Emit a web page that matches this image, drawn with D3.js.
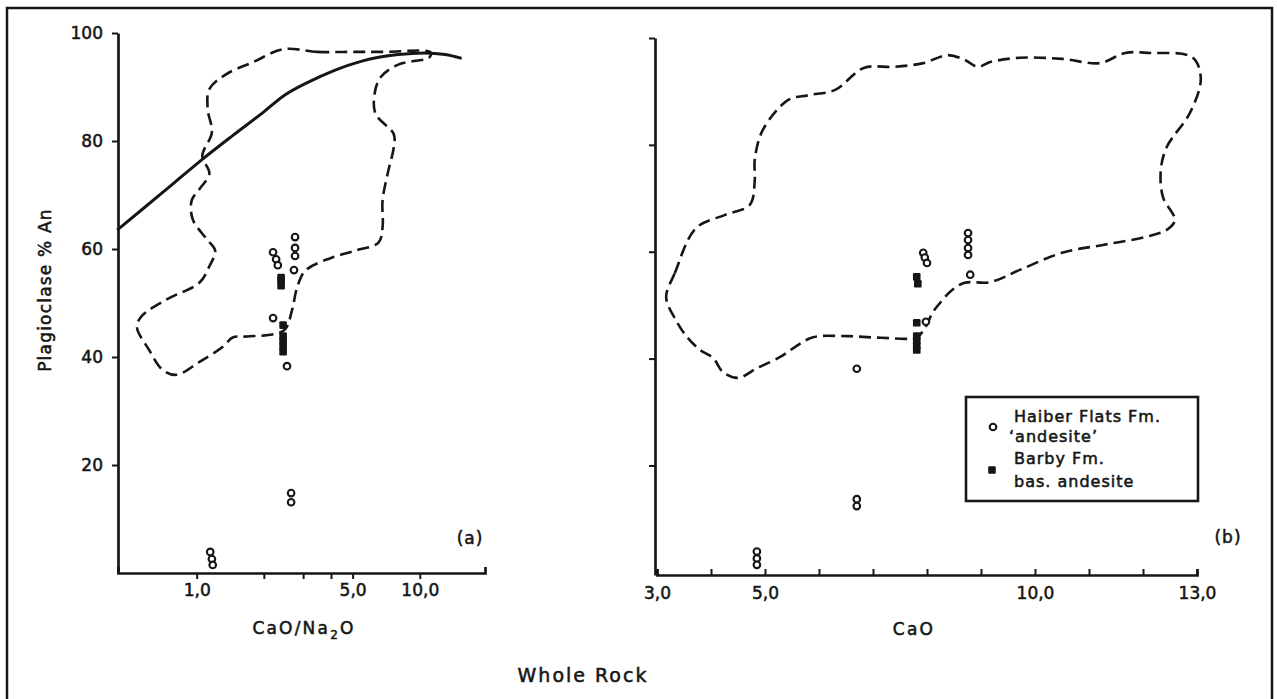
<!DOCTYPE html>
<html>
<head>
<meta charset="utf-8">
<script src="https://cdn.jsdelivr.net/npm/d3@7"></script>
<style>
  body { margin: 0; background: #fff; }
  svg text { font-family: "DejaVu Sans", sans-serif; fill: #161616; stroke: #161616; stroke-width: 0.55px; }
</style>
</head>
<body>
<div id="chart"></div>
<script>
// ---- panel (a): CaO/Na2O (log) vs % An ----
const curveA = [[0.44, 63.5], [0.6, 68.1], [0.8, 72.4], [1.06, 76.6], [1.45, 81.0], [2.0, 85.4],
  [2.44, 88.3], [3.2, 91.0], [4.1, 93.0], [5.5, 94.8], [8.0, 96.0], [10.5, 96.3], [13, 96.0], [15.4, 95.3]];

const outlineA = [[2.44, 97.0], [3.47, 96.5], [4.89, 96.5], [6.88, 96.5], [11.2, 96.4], [11.0, 95.4],
  [9.4, 94.8], [7.96, 94.1], [6.67, 91.8], [6.27, 88.7], [6.34, 85.0], [7.64, 81.3], [7.64, 78.8],
  [7.18, 74.0], [6.81, 69.0], [6.81, 64.0], [6.53, 61.2], [5.15, 59.7], [3.97, 58.3], [3.07, 56.0],
  [2.82, 52.9], [2.68, 48.8], [2.49, 45.1], [2.20, 44.2], [1.68, 43.8], [1.45, 43.6], [1.31, 41.9],
  [1.03, 39.1], [0.81, 36.7], [0.70, 37.7], [0.61, 41.4], [0.54, 45.5], [0.565, 47.5], [0.73, 50.6],
  [1.03, 53.8], [1.14, 56.8], [1.21, 59.7], [1.11, 61.8], [0.96, 65.5], [0.95, 69.0], [1.03, 71.1],
  [1.14, 74.0], [1.06, 77.2], [1.17, 81.6], [1.12, 85.9], [1.14, 89.6], [1.36, 92.4], [1.79, 94.6]];

const haiberA = [[2.20, 59.4], [2.27, 58.1], [2.31, 57.0], [2.76, 62.2], [2.76, 60.2], [2.76, 58.7],
  [2.73, 56.1], [2.20, 47.2], [2.54, 38.3], [2.65, 14.8], [2.65, 13.1], [1.15, 3.9], [1.17, 2.6], [1.18, 1.5]];
const barbyA = [[2.39, 54.7], [2.39, 54.1], [2.39, 53.2], [2.44, 45.9], [2.44, 43.9], [2.44, 43.0],
  [2.44, 42.0], [2.44, 41.0]];

// ---- panel (b): CaO vs % An ----
const outlineB = [[3.17, 51.5], [3.33, 56.0], [3.72, 64.4], [4.26, 66.9], [4.72, 68.8], [4.81, 73.4],
  [4.81, 77.2], [4.96, 82.8], [5.43, 88.4], [5.81, 89.3], [6.30, 90.3], [6.83, 94.4], [7.39, 94.6],
  [7.93, 95.3], [8.39, 96.8], [8.70, 95.9], [8.94, 94.6], [9.17, 95.5], [9.72, 96.3], [10.5, 96.1],
  [11.2, 95.3], [11.67, 97.2], [12.13, 97.2], [12.91, 96.4], [13.07, 92.5], [12.87, 86.0], [12.44, 79.6],
  [12.33, 75.3], [12.37, 70.2], [12.59, 65.9], [12.44, 64.1], [12.06, 62.8], [11.28, 61.3], [10.5, 59.8],
  [9.72, 56.6], [9.17, 54.3], [8.70, 54.2], [8.46, 52.8], [8.24, 50.4], [8.11, 48.7], [7.96, 45.7],
  [7.81, 44.0], [7.15, 43.9], [6.52, 44.2], [5.89, 44.0], [5.56, 42.2], [5.28, 40.3], [4.85, 38.2],
  [4.5, 36.4], [4.22, 37.5], [4.04, 40.1], [3.8, 41.6], [3.56, 44.0], [3.35, 47.2]];

const haiberB = [[7.93, 59.8], [7.96, 58.9], [8.0, 57.9], [8.76, 63.5], [8.76, 62.2], [8.76, 60.7],
  [8.76, 59.4], [8.80, 55.7], [7.98, 46.9], [6.70, 38.1], [6.70, 13.7], [6.70, 12.4], [4.85, 3.9],
  [4.85, 2.6], [4.85, 1.4]];
const barbyB = [[7.81, 55.3], [7.83, 54.0], [7.81, 46.7], [7.81, 44.2], [7.81, 43.3], [7.81, 42.4], [7.81, 41.6]];

// ---- axes ----
const yTicks = [20, 40, 60, 80, 100];
const xTicksA = [1, 2, 3, 4, 5, 10];
const xLabelValsA = [1, 5, 10];
const xLabelsA = ["1,0", "5,0", "10,0"];
const xTicksB = [3, 4, 5, 6, 7, 8, 9, 10, 11, 12, 13];
const xLabelValsB = [3, 5, 10, 13];
const xLabelsB = ["3,0", "5,0", "10,0", "13,0"];

const legendLabels = [["Haiber Flats Fm.", "\u2018andesite\u2019"], ["Barby Fm.", "bas. andesite"]];

const W = 1277, H = 699;
const ink = "#161616";

const svg = d3.select("#chart").append("svg")
  .attr("width", W).attr("height", H);

// outer frame (bottom edge runs off the page)
svg.append("rect")
  .attr("x", 7).attr("y", 8).attr("width", 1265).attr("height", 740)
  .attr("fill", "none").attr("stroke", ink).attr("stroke-width", 2.5);

// scales
const xA = d3.scaleLog().domain([0.444, 19.6]).range([118, 485]);
const yA = d3.scaleLinear().domain([0, 100]).range([573, 33]);
const xB = d3.scaleLinear().domain([3, 13]).range([657, 1197]);
const yB = d3.scaleLinear().domain([-0.5, 100]).range([575, 38]);

function styleAxis(g) {
  g.attr("font-family", null).attr("font-size", 17);
  g.selectAll(".domain").attr("stroke", ink).attr("stroke-width", 2.7);
  g.selectAll(".tick line").attr("stroke", ink).attr("stroke-width", 2);
  g.selectAll(".tick text").attr("fill", ink);
}

// ---- panel (a) axes ----
svg.append("g")
  .attr("transform", "translate(118,0)")
  .call(d3.axisLeft(yA).tickValues(yTicks).tickSize(6).tickSizeOuter(0).tickPadding(9))
  .call(styleAxis);

svg.append("g")
  .attr("transform", "translate(0,573)")
  .call(d3.axisBottom(xA).tickValues(xTicksA).tickSize(6).tickSizeOuter(-6).tickPadding(5)
    .tickFormat(d => { const i = xLabelValsA.indexOf(d); return i < 0 ? "" : xLabelsA[i]; }))
  .call(styleAxis);

// ---- panel (b) axes ----
svg.append("g")
  .attr("transform", `translate(${xB(3) - 2},0)`)
  .call(d3.axisLeft(yB).tickValues(yTicks).tickSize(6).tickSizeOuter(0).tickFormat(""))
  .call(styleAxis);

svg.append("g")
  .attr("transform", "translate(0,575)")
  .call(d3.axisBottom(xB).tickValues(xTicksB).tickSize(-6).tickSizeOuter(-6).tickPadding(12)
    .tickFormat(d => { const i = xLabelValsB.indexOf(d); return i < 0 ? "" : xLabelsB[i]; }))
  .call(styleAxis);

// ---- outlines and curve ----
const dash = "12,6";
function outline(data, x, y) {
  return d3.line().x(d => x(d[0])).y(d => y(d[1])).curve(d3.curveCatmullRomClosed.alpha(0.5))(data);
}
svg.append("path").attr("d", outline(outlineA, xA, yA))
  .attr("fill", "none").attr("stroke", ink).attr("stroke-width", 2.6).attr("stroke-dasharray", dash);
svg.append("path").attr("d", outline(outlineB, xB, yB))
  .attr("fill", "none").attr("stroke", ink).attr("stroke-width", 2.6).attr("stroke-dasharray", dash);

svg.append("path")
  .attr("d", d3.line().x(d => xA(d[0])).y(d => yA(d[1])).curve(d3.curveMonotoneX)(curveA))
  .attr("fill", "none").attr("stroke", ink).attr("stroke-width", 3);

// ---- markers ----
function drawPoints(hai, bar, x, y) {
  svg.append("g").selectAll("circle").data(hai).join("circle")
    .attr("cx", d => x(d[0])).attr("cy", d => y(d[1])).attr("r", 3.3)
    .attr("fill", "#fff").attr("stroke", ink).attr("stroke-width", 2.1);
  svg.append("g").selectAll("rect").data(bar).join("rect")
    .attr("x", d => x(d[0]) - 3.8).attr("y", d => y(d[1]) - 3.8).attr("rx", 1.2)
    .attr("width", 7.6).attr("height", 7.6).attr("fill", ink);
}
drawPoints(haiberA, barbyA, xA, yA);
drawPoints(haiberB, barbyB, xB, yB);

// ---- texts ----
function label(x, y, txt, size, spacing, anchor) {
  return svg.append("text").attr("x", x).attr("y", y)
    .attr("font-size", size).attr("letter-spacing", spacing)
    .attr("text-anchor", anchor || "middle").text(txt);
}

svg.append("text")
  .attr("transform", "translate(51,290) rotate(-90)")
  .attr("text-anchor", "middle").attr("font-size", 17).attr("letter-spacing", 1.2)
  .text("Plagioclase % An");

const tA = label(304, 634, "CaO/Na", 17, 2.2);
tA.append("tspan").attr("font-size", 12).attr("dy", 5).text("2");
tA.append("tspan").attr("dy", -5).text("O");

label(914, 635, "CaO", 17, 2.2);
label(583, 682, "Whole Rock", 19, 2);
label(470, 544, "(a)", 17, 1);
label(1228, 543, "(b)", 17, 1);

// ---- legend ----
const lg = svg.append("g");
lg.append("rect").attr("x", 966).attr("y", 397).attr("width", 232).attr("height", 104)
  .attr("fill", "#fff").attr("stroke", ink).attr("stroke-width", 2.6);
lg.append("circle").attr("cx", 993).attr("cy", 427).attr("r", 3.3)
  .attr("fill", "#fff").attr("stroke", ink).attr("stroke-width", 2.1);
lg.append("rect").attr("x", 988.2).attr("y", 466.2).attr("width", 7.6).attr("height", 7.6)
  .attr("rx", 1.2).attr("fill", ink);
const lineY = [[422, 442], [464, 487]];
legendLabels.forEach((pair, i) => {
  label(1014, lineY[i][0], pair[0], 16, 1, "start");
  label(i === 0 ? 1009 : 1014, lineY[i][1], pair[1], 16, 1, "start");
});
</script>
</body>
</html>
